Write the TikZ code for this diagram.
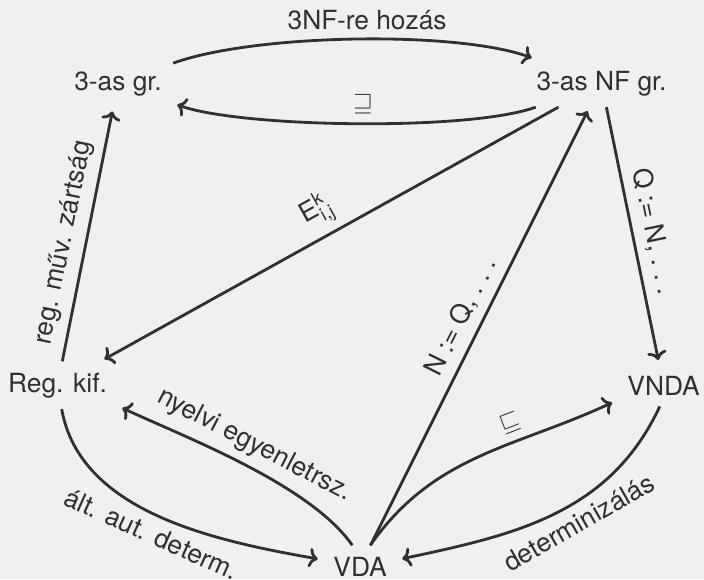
\documentclass[tikz,border=0pt]{standalone}
\usepackage{amsmath,amssymb}
\usepackage{fontspec}
\setmainfont{TeX Gyre Heros}
\usetikzlibrary{arrows.meta}
\definecolor{bg}{HTML}{F0F0F0}
\definecolor{ink}{HTML}{303030}
\newcommand{\spdots}{.\kern.28em.\kern.28em.}
\begin{document}
\begin{tikzpicture}[x=.02cm,y=-.02cm,line width=1.6pt,
  every node/.style={font=\fontsize{15}{18}\selectfont,text=ink},
  obj/.style={anchor=base,inner sep=.2cm,text height=11pt},
  lab/.style={inner sep=4.5pt},
  arr/.style={draw=ink,-{To[length=5pt,width=11pt]},shorten >=2.5pt}]
  \fill[bg] (0,0) rectangle (704,579);
  \path[use as bounding box] (0,0) rectangle (704,579);
  % automata and grammars
  \node[obj] (gr) at (118,90) {3-as gr.};
  \node[obj] (nf) at (601.5,90) {3-as NF gr.};
  \node[obj] (reg) at (57.5,392) {Reg. kif.};
  \node[obj] (vnda) at (663.5,395) {VNDA};
  \node[obj] (vda) at (360,576) {VDA};
  % top pair
  \draw[arr] (gr) to[out=20,in=160,looseness=.6] node[lab,above,pos=.53] {3NF-re hozás} (nf);
  \draw[arr] (nf) to[out=-160,in=-20,looseness=.5] node[lab,above,pos=.48] {$\sqsupseteq$} (gr);
  % straight ones
  \draw[arr] (reg) -- node[lab,above,sloped,pos=.45] {reg. műv. zártság} (gr);
  \draw[arr] (nf) -- node[lab,above,sloped] {E$^{\text{k}}_{\text{i,j}}$} (reg);
  \draw[arr] (vda) -- node[lab,above,sloped] {N := Q, \spdots} (nf);
  \draw[arr] (nf) -- node[lab,above,sloped] {Q := N, \spdots} (vnda);
  % bottom curves
  \draw[arr] (reg) to[out=-80,in=170,looseness=.9] node[lab,below,sloped] {ált. aut. determ.} (vda);
  \draw[arr] (vda.110) to[out=125,in=-25,looseness=.7] node[lab,above,sloped] {nyelvi egyenletrsz.} (reg.-19);
  \draw[arr] (vda.64) to[out=55,in=205] node[lab,above,sloped,pos=.65] {$\sqsubseteq$} (vnda.198);
  \draw[arr] (vnda.-100) to[out=-115,in=12] node[lab,below,sloped,pos=.44] {determinizálás} (vda.10);
\end{tikzpicture}
\end{document}
